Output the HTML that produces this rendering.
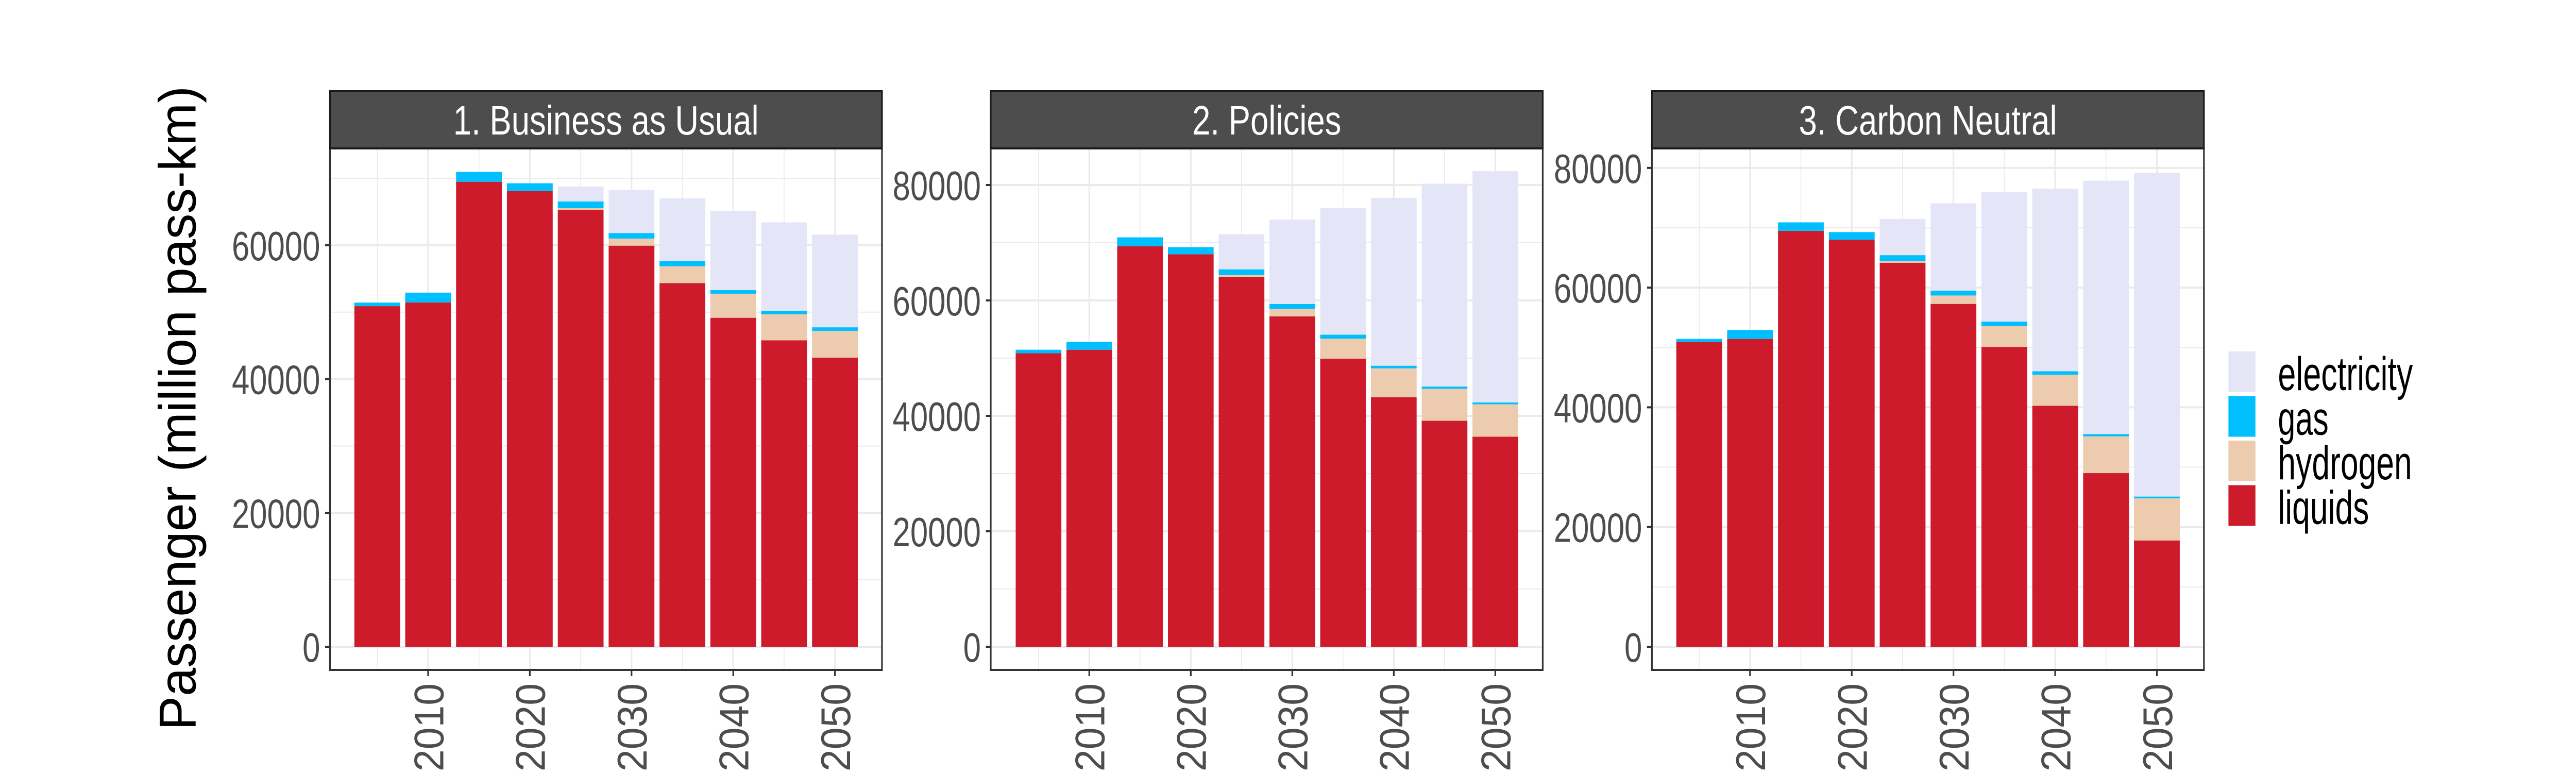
<!DOCTYPE html>
<html><head><meta charset="utf-8"><style>
html,body{margin:0;padding:0;background:#fff;overflow:hidden;width:100vw;height:100vh;}
svg{display:block;width:100vw;height:100vh;}
text{font-family:"Liberation Sans",sans-serif;}
</style></head><body>
<svg id="chart" viewBox="0 0 6300 1500" preserveAspectRatio="none" xmlns="http://www.w3.org/2000/svg">
<text x="0" y="0" transform="translate(478,792) rotate(-90)" text-anchor="middle" font-size="128" fill="#000" textLength="1250" lengthAdjust="spacingAndGlyphs">Passenger (million pass-km)</text>
<g id="legend"></g>
</svg>
<script>
const years = [2005,2010,2015,2020,2025,2030,2035,2040,2045,2050];
const scenarios = ["1. Business as Usual","2. Policies","3. Carbon Neutral"];
const fuels = ["liquids","hydrogen","gas","electricity"];
const fuelColors = ["#ce1b2c","#edcbae","#00bfff","#e5e5f8"];
const legendOrder = ["electricity","gas","hydrogen","liquids"];
const legendWidths = {electricity:330,gas:124,hydrogen:328,liquids:223};
// Scenario 1 components
const bauLiquids = [50900,51450,69490,68080,65300,59940,54340,49160,45800,43200];
const bauHydrogen = [0,0,0,0,240,1060,2530,3600,3890,4010];
const bauGas = [530,1470,1480,1180,1000,820,770,530,530,530];
const bauElectricity = [0,0,0,0,2240,6420,9370,11850,13200,13850];
// Scenario 2 components
const polLiquids = [50850,51460,69390,68000,64080,57230,49920,43230,39150,36390];
const polHydrogen = [0,0,0,0,310,1310,3460,5000,5540,5620];
const polGas = [610,1380,1540,1230,1000,850,690,460,390,310];
const polElectricity = [0,0,0,0,6080,14620,21920,29080,35150,40080];
// Scenario 3 components
const cnLiquids = [50920,51430,69490,68010,64160,57280,50100,40260,29010,17760];
const cnHydrogen = [0,0,0,0,300,1400,3480,5180,6140,7030];
const cnGas = [520,1480,1410,1260,960,810,740,590,370,300];
const cnElectricity = [0,0,0,0,6070,14580,21610,30490,42330,54090];
const yTicks1 = [0,20000,40000,60000];
const yTicks23 = [0,20000,40000,60000,80000];
const xTicks = [2010,2020,2030,2040,2050];

const data = [
  [bauLiquids,bauHydrogen,bauGas,bauElectricity],
  [polLiquids,polHydrogen,polGas,polElectricity],
  [cnLiquids,cnHydrogen,cnGas,cnElectricity]
];
const panels = [
  {left:807,right:2157,y0:1255,per20k:259.7,x2010:1047,x2050:2042,ticks:yTicks1},
  {left:2423,right:3773,y0:1255,per20k:224,x2010:2664,x2050:3657,ticks:yTicks23},
  {left:4040,right:5390,y0:1255,per20k:232.3,x2010:4280,x2050:5275,ticks:yTicks23}
];
const NS="http://www.w3.org/2000/svg";
const svgEl=document.getElementById('chart');
function mk(tag,attrs,parent){const e=document.createElementNS(NS,tag);for(const k in attrs)e.setAttribute(k,attrs[k]);(parent||svgEl).appendChild(e);return e;}
const plotTop=288,plotBottom=1300,stripTop=177;

panels.forEach((p,pi)=>{
  const g=mk('g',{});
  
  
  const yScale=v=>p.y0-v/20000*p.per20k;
  const perYear=(p.x2050-p.x2010)/40;
  const xScale=yr=>p.x2010+(yr-2010)*perYear;
  mk('rect',{x:p.left,y:plotTop,width:p.right-p.left,height:plotBottom-plotTop,fill:'#fff'},g);
  const maxT=p.ticks[p.ticks.length-1];
  for(let v=10000;v<=maxT+10000;v+=20000){const y=yScale(v);if(y>plotTop)mk('line',{x1:p.left,x2:p.right,y1:y,y2:y,stroke:'#ebebeb','stroke-width':2},g);}
  [2005,2015,2025,2035,2045].forEach(yr=>{const x=xScale(yr);mk('line',{x1:x,x2:x,y1:plotTop,y2:plotBottom,stroke:'#ebebeb','stroke-width':2},g);});
  p.ticks.forEach(v=>{const y=yScale(v);const l=mk('line',{x1:p.left,x2:p.right,y1:y,y2:y,stroke:'#ebebeb','stroke-width':4},g);
    
    });
  xTicks.forEach(yr=>{const x=xScale(yr);mk('line',{x1:x,x2:x,y1:plotTop,y2:plotBottom,stroke:'#ebebeb','stroke-width':4},g);});
  const bw=perYear*5*0.9;
  years.forEach((yr,i)=>{
    let acc=0;
    fuels.forEach((f,fi)=>{
      const v=data[pi][fi][i];
      if(v<=0)return;
      const y1=yScale(acc),y2=yScale(acc+v);
      const r=mk('rect',{x:xScale(yr)-bw/2,y:y2,width:bw,height:y1-y2,fill:fuelColors[fi]},g);
      
      
      acc+=v;
    });
  });
  mk('rect',{x:p.left,y:plotTop,width:p.right-p.left,height:plotBottom-plotTop,fill:'none',stroke:'#333','stroke-width':4},g);
  const s=mk('rect',{x:p.left,y:stripTop,width:p.right-p.left,height:plotTop-stripTop,fill:'#4d4d4d',stroke:'#1a1a1a','stroke-width':4},g);
  
  
  const st=mk('text',{x:(p.left+p.right)/2,y:plotTop-27,'text-anchor':'middle','font-size':80,fill:'#fff'},g);
  st.textContent=scenarios[pi];
  
  
  p.ticks.forEach(v=>{
    const y=yScale(v);
    mk('line',{x1:p.left-12,x2:p.left,y1:y,y2:y,stroke:'#333','stroke-width':4},g);
    const t=mk('text',{x:p.left-24,y:y+29,'text-anchor':'end','font-size':80,fill:'#4d4d4d',textLength:String(v).length*43.2,lengthAdjust:'spacingAndGlyphs'},g);
    t.textContent=v;
    
    
  });
  xTicks.forEach(yr=>{
    const x=xScale(yr);
    mk('line',{x1:x,x2:x,y1:plotBottom,y2:plotBottom+12,stroke:'#333','stroke-width':4},g);
    const t=mk('text',{x:0,y:0,transform:`translate(${x+37},${plotBottom+26}) rotate(-90)`,'text-anchor':'end','font-size':102,fill:'#4d4d4d',textLength:171,lengthAdjust:'spacingAndGlyphs'},g);
    t.textContent=yr;
    
    
  });
});

const lg=document.getElementById('legend');
legendOrder.forEach((f,i)=>{
  const y=682+i*86.5;
  const r=mk('rect',{x:5450,y:y,width:66,height:79,fill:fuelColors[fuels.indexOf(f)]},lg);
  
  
  const t=mk('text',{x:5571,y:y+75,'font-size':92,fill:'#000',textLength:legendWidths[f],lengthAdjust:'spacingAndGlyphs'},lg);
  t.textContent=f;
  
  
});
</script>
</body></html>
